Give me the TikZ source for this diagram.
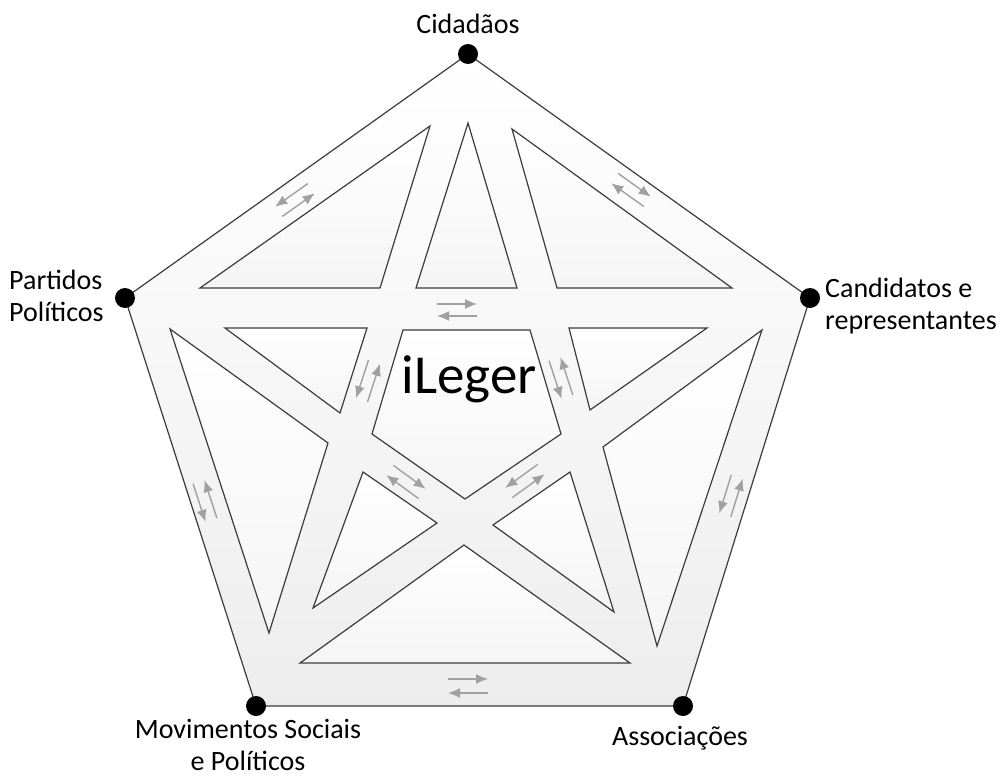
\documentclass[tikz,border=0pt]{standalone}
\usepackage{fontspec}
\setmainfont{Carlito}
\usetikzlibrary{arrows.meta}

\definecolor{linegray}{RGB}{60,60,60}
\definecolor{flowgray}{RGB}{160,160,160}

% two opposite flow arrows: centre, angle, side offset
\newcommand{\flowpair}[3]{%
  \begin{scope}[shift={#1},rotate=#2]
    \draw[flow] (-20,{-(#3)}) -- (20,{-(#3)});
    \draw[flow] (20,{#3}) -- (-20,{#3});
  \end{scope}}

\begin{document}
\begin{tikzpicture}[x=1pt,y=-1pt,
  outline/.style={draw=linegray, line width=1.2pt, line join=miter},
  region/.style={outline, top color=white, bottom color=black!4},
  flow/.style={draw=flowgray, line width=1.4pt, -{Latex[length=12pt,width=10pt]}},
  vdot/.style={circle, fill=black, minimum size=20pt, inner sep=0pt},
  lbl/.style={font=\fontsize{28}{32}\selectfont, inner sep=0pt}]

  \path[fill=white] (0,0) rectangle (1001,778);

  % corners
  \coordinate (cid) at (468,54);
  \coordinate (cand) at (810,298);
  \coordinate (assoc) at (683,706);
  \coordinate (movim) at (256,706);
  \coordinate (part) at (125,298);

  % outer pentagon
  \path[outline, top color=white, bottom color=black!7]
    (cid) -- (cand) -- (assoc) -- (movim) -- (part) -- cycle;

  % edge triangles
  \path[region] (200,288) -- (430,126) -- (380,288) -- cycle;
  \path[region] (512,129) -- (557,288) -- (732,288) -- cycle;
  \path[region] (170,329) -- (328,443) -- (269,633) -- cycle;
  \path[region] (762,330) -- (603,447) -- (657,646) -- cycle;
  \path[region] (300,663) -- (464,545) -- (630,663) -- cycle;

  % star points
  \path[region] (468,123) -- (416,288) -- (517,288) -- cycle;
  \path[region] (225,328) -- (367,328) -- (340,413) -- cycle;
  \path[region] (569,328) -- (707,328) -- (590,410) -- cycle;
  \path[region] (363,472) -- (437,523) -- (313,608) -- cycle;
  \path[region] (570,472) -- (493,525) -- (614,612) -- cycle;

  % centre
  \path[region] (403,330) -- (530,330) -- (561,434) -- (465,499) -- (372,434) -- cycle;
  \node[font=\fontsize{55}{60}\selectfont, inner sep=0pt, anchor=base] (ileger) at (469,393) {iLeger};

  % flows
  \flowpair{(295,200)}{35.4}{-6}
  \flowpair{(631,190)}{-35.5}{6}
  \flowpair{(457,310)}{0}{6}
  \flowpair{(368,381)}{72}{-6}
  \flowpair{(561,378)}{108}{-6}
  \flowpair{(406,482)}{-36}{6}
  \flowpair{(525,481)}{36}{-6}
  \flowpair{(205,501)}{108}{-6}
  \flowpair{(731,496)}{72.7}{-6}
  \flowpair{(468,686)}{0}{7}

  % corner dots
  \node[vdot] (cidDot) at (cid) {};
  \node[vdot] (candDot) at (cand) {};
  \node[vdot] (assocDot) at (assoc) {};
  \node[vdot] (movimDot) at (movim) {};
  \node[vdot] (partDot) at (part) {};

  % labels
  \node[lbl] (cidLabel) at (468,24) {Cidadãos};
  \node[lbl, align=left, anchor=west] (partLabel) at (9,296) {Partidos\\Políticos};
  \node[lbl, align=left, anchor=west] (candLabel) at (825,306) {Candidatos e\\representantes};
  \node[lbl, align=center] (movimLabel) at (248,745) {Movimentos Sociais\\e Políticos};
  \node[lbl] (assocLabel) at (680,738) {Associações};
\end{tikzpicture}
\end{document}
